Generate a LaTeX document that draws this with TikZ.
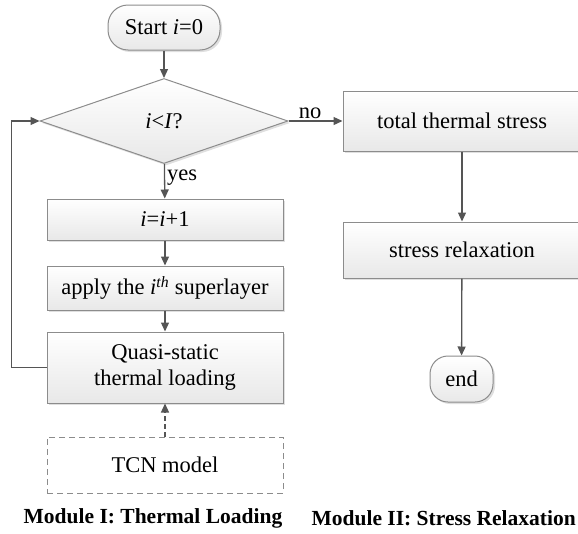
\documentclass[tikz,border=0pt]{standalone}
\usepackage{fontspec}
\setmainfont{Liberation Serif}
\usetikzlibrary{shapes.geometric,arrows.meta,shadows}
\definecolor{linegray}{HTML}{8C8C8C}
\definecolor{arrowgray}{HTML}{555555}
\tikzset{
  box/.style={draw=linegray, line width=1pt, top color=white, bottom color=black!9,
    drop shadow={opacity=0.25, shadow xshift=2pt, shadow yshift=-2pt},
    inner sep=0pt, align=center, font=\fontsize{22.5}{26}\selectfont},
  terminal/.style={box, rounded corners=20pt},
  decision/.style={box, diamond, minimum width=248pt, minimum height=85pt},
  modelbox/.style={draw=linegray, line width=1pt, dashed, dash pattern=on 6pt off 4pt,
    fill=white, inner sep=0pt, font=\fontsize{22.5}{26}\selectfont},
  arr/.style={draw=arrowgray, line width=1.3pt, -{Triangle[length=9pt,width=8pt]}},
  lbl/.style={font=\fontsize{22.5}{26}\selectfont, inner sep=2pt},
  module/.style={font=\fontsize{21.5}{25}\selectfont\bfseries, inner sep=0pt}
}
\begin{document}
\begin{tikzpicture}[x=1pt,y=-1pt]
\useasboundingbox (0,0) rectangle (578,533);
\node[terminal, minimum width=112pt, minimum height=45pt] (start) at (164,27.5) {Start \textit{i}=0};
\node[decision] (check) at (164,121) {\textit{i}<\textit{I}?};
\node[box, minimum width=236pt, minimum height=41pt] (inc) at (165,219.5) {\textit{i}=\textit{i}+1};
\node[box, minimum width=236pt, minimum height=44pt] (apply) at (165,288) {apply the \textit{i}\textsuperscript{\textit{th}} superlayer};
\node[box, minimum width=236pt, minimum height=71pt] (quasi) at (165,367.5) {Quasi-static\\thermal loading};
\node[modelbox, minimum width=236pt, minimum height=56pt] (tcn) at (165,465) {TCN model};
\node[box, minimum width=238pt, minimum height=60pt] (total) at (462,121) {total thermal stress};
\node[box, minimum width=238pt, minimum height=56pt] (relax) at (462,250) {stress relaxation};
\node[terminal, minimum width=63pt, minimum height=46pt, rounded corners=18pt] (end) at (461.5,379) {end};
\node[module] (modI) at (153,518) {Module I: Thermal Loading};
\node[module, anchor=east] (modII) at (576,518) {Module II: Stress Relaxation};

\draw[arr] (start) -- (check);
\draw[arr] (check) -- node[lbl, pos=0.4, right] {yes} (inc);
\draw[arr] (inc) -- (apply);
\draw[arr] (apply) -- (quasi);
\draw[arr, dashed, dash pattern=on 5pt off 3pt] (tcn) -- (quasi);
\draw[arr] (quasi.west) -- ++(-35,0) |- (check.west);
\draw[arr] (check.east) -- node[lbl, pos=0.4, above] {no} (total.west);
\draw[arr] (total) -- (relax);
\draw[arr] (relax) -- (end);
\end{tikzpicture}
\end{document}
